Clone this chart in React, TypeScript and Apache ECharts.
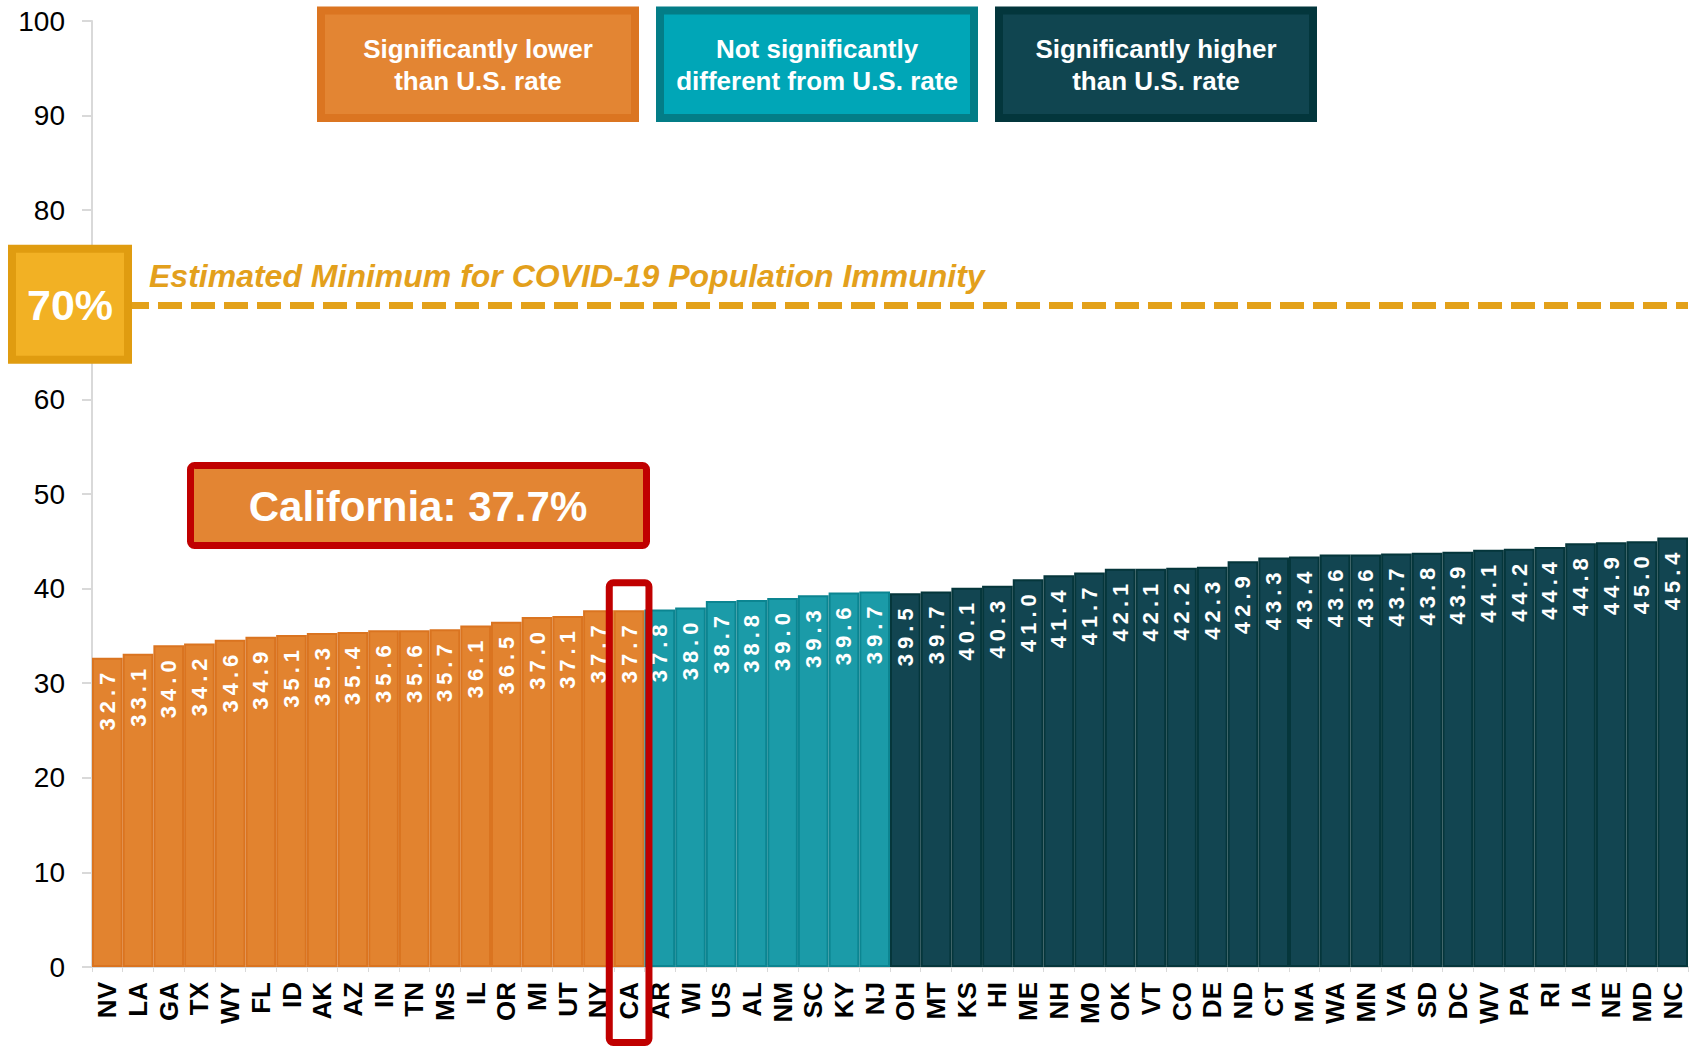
import React, { useEffect, useRef } from "react";
import * as echarts from "echarts";

const lowerStates = ["NV", "LA", "GA", "TX", "WY", "FL", "ID", "AK", "AZ", "IN", "TN", "MS", "IL", "OR", "MI", "UT", "NY", "CA"];
const lowerValues = [32.7, 33.1, 34.0, 34.2, 34.6, 34.9, 35.1, 35.3, 35.4, 35.6, 35.6, 35.7, 36.1, 36.5, 37.0, 37.1, 37.7, 37.7];
const similarStates = ["AR", "WI", "US", "AL", "NM", "SC", "KY", "NJ"];
const similarValues = [37.8, 38.0, 38.7, 38.8, 39.0, 39.3, 39.6, 39.7];
const higherStates = ["OH", "MT", "KS", "HI", "ME", "NH", "MO", "OK", "VT", "CO", "DE", "ND", "CT", "MA", "WA", "MN", "VA", "SD", "DC", "WV", "PA", "RI", "IA", "NE", "MD", "NC"];
const higherValues = [39.5, 39.7, 40.1, 40.3, 41.0, 41.4, 41.7, 42.1, 42.1, 42.2, 42.3, 42.9, 43.3, 43.4, 43.6, 43.6, 43.7, 43.8, 43.9, 44.1, 44.2, 44.4, 44.8, 44.9, 45.0, 45.4];

const yMin = 0;
const yMax = 100;
const yInterval = 10;
const threshold = 70;
const thresholdLabel = "70%";
const thresholdText = "Estimated Minimum for COVID-19 Population Immunity";
const highlightState = "CA";
const highlightText = "California: 37.7%";
const legendLabels = [
  "Significantly lower\nthan U.S. rate",
  "Not significantly\ndifferent from U.S. rate",
  "Significantly higher\nthan U.S. rate",
];

const FONT = '"Liberation Sans", Arial, Helvetica, sans-serif';

const groupStyles = [
  { fill: "#E2832F", border: "#DA7420", legendFill: "#E38533", legendBorder: "#DB7521" },
  { fill: "#1B9BA8", border: "#0C8591", legendFill: "#00A6B7", legendBorder: "#037D87" },
  { fill: "#124551", border: "#05363B", legendFill: "#104550", legendBorder: "#03363C" },
];

export default function App() {
  const ref = useRef<HTMLDivElement>(null);

  useEffect(() => {
    if (!ref.current) return;
    const chart = echarts.init(ref.current, null, { renderer: "svg" });

    const groups = [
      { states: lowerStates, values: lowerValues },
      { states: similarStates, values: similarValues },
      { states: higherStates, values: higherValues },
    ];
    const categories: string[] = [];
    const data: any[] = [];
    groups.forEach((g, gi) => {
      g.states.forEach((s, i) => {
        categories.push(s);
        data.push({
          value: g.values[i],
          itemStyle: { color: groupStyles[gi].fill, borderColor: groupStyles[gi].border, borderWidth: 2 },
        });
      });
    });

    chart.setOption({
      animation: false,
      grid: { left: 92, right: 10, top: 21, bottom: 80, containLabel: false },
      xAxis: {
        type: "category",
        data: categories,
        axisLine: { show: true, lineStyle: { color: "#D9D9D9", width: 2 } },
        axisTick: { show: true, length: 5, lineStyle: { color: "#D9D9D9" } },
        axisLabel: {
          interval: 0,
          rotate: 90,
          margin: 15,
          color: "#000",
          fontSize: 26,
          fontWeight: "bold",
          fontFamily: FONT,
        },
      },
      yAxis: {
        type: "value",
        min: yMin,
        max: yMax,
        interval: yInterval,
        splitLine: { show: false },
        axisLine: { show: true, lineStyle: { color: "#D9D9D9", width: 2 } },
        axisTick: { show: true, length: 10, lineStyle: { color: "#D9D9D9", width: 2 } },
        axisLabel: {
          margin: 27,
          color: "#000",
          fontSize: 28,
          fontFamily: FONT,
          formatter: (v: number) => (v === threshold ? "" : String(v)),
        },
      },
      series: [
        {
          type: "bar",
          data,
          barCategoryGap: "0%",
          label: {
            show: true,
            position: "insideTop",
            rotate: 90,
            align: "right",
            verticalAlign: "middle",
            distance: 10,
            color: "#fff",
            fontSize: 22,
            fontWeight: "bold",
            fontFamily: FONT,
            formatter: (p: any) => Number(p.value).toFixed(1),
          },
          markLine: {
            silent: true,
            symbol: "none",
            label: { show: false },
            lineStyle: { color: "#E3A11A", width: 7, type: [24, 9] },
            data: [{ yAxis: threshold }],
          },
        },
      ],
    });

    // Graphic overlays positioned from the chart's own scales
    const y70 = chart.convertToPixel({ yAxisIndex: 0 }, threshold) as number;
    const caIdx = categories.indexOf(highlightState);
    const caX = chart.convertToPixel({ xAxisIndex: 0 }, highlightState) as number;
    const nextX = chart.convertToPixel({ xAxisIndex: 0 }, categories[caIdx + 1]) as number;
    const bw = nextX - caX;
    const caTop = chart.convertToPixel({ yAxisIndex: 0 }, data[caIdx].value) as number;

    const legendX = [317, 656, 995];
    const legendGraphics: any[] = [];
    legendLabels.forEach((txt, i) => {
      legendGraphics.push({
        type: "rect",
        z: 100,
        shape: { x: legendX[i] + 4, y: 10.5, width: 314, height: 107.5 },
        style: { fill: groupStyles[i].legendFill, stroke: groupStyles[i].legendBorder, lineWidth: 8 },
      });
      legendGraphics.push({
        type: "text",
        z: 101,
        x: legendX[i] + 161,
        y: 65,
        style: {
          text: txt,
          fill: "#fff",
          font: `bold 26px ${FONT}`,
          align: "center",
          verticalAlign: "middle",
          lineHeight: 32,
        },
      });
    });

    chart.setOption({
      graphic: [
        ...legendGraphics,
        {
          type: "rect",
          z: 100,
          shape: { x: 12, y: y70 - 56, width: 116, height: 111 },
          style: { fill: "#F2B124", stroke: "#E09C10", lineWidth: 8 },
        },
        {
          type: "text",
          z: 101,
          x: 70,
          y: y70,
          style: {
            text: thresholdLabel,
            fill: "#fff",
            font: `bold 43px ${FONT}`,
            align: "center",
            verticalAlign: "middle",
          },
        },
        {
          type: "text",
          z: 101,
          x: 149,
          y: y70 - 29,
          style: {
            text: thresholdText,
            fill: "#E3A01C",
            font: `italic bold 32px ${FONT}`,
            align: "left",
            verticalAlign: "middle",
          },
        },
        {
          type: "rect",
          z: 100,
          shape: { x: 190.5, y: 465.5, width: 456, height: 80, r: 4 },
          style: { fill: "#E38533", stroke: "#C00000", lineWidth: 7 },
        },
        {
          type: "text",
          z: 101,
          x: 418,
          y: 506,
          style: {
            text: highlightText,
            fill: "#fff",
            font: `bold 42px ${FONT}`,
            align: "center",
            verticalAlign: "middle",
          },
        },
        {
          type: "rect",
          z: 100,
          shape: { x: caX - bw / 2 - 4.5, y: caTop - 27.5, width: bw + 9, height: 1042.5 - (caTop - 27.5), r: 4 },
          style: { fill: "none", stroke: "#C00000", lineWidth: 7 },
        },
      ],
    });

    const applySpacing = () => {
      if (!ref.current) return;
      ref.current.querySelectorAll("text").forEach((t) => {
        if (/^\d+\.\d$/.test(t.textContent || "")) {
          t.setAttribute("letter-spacing", "5");
        }
      });
    };
    applySpacing();
    chart.on("finished", applySpacing);
    const timer = setTimeout(applySpacing, 50);

    return () => {
      clearTimeout(timer);
      chart.dispose();
    };
  }, []);

  return (
    <div
      ref={ref}
      style={{ position: "fixed", left: 0, top: 0, width: 1698, height: 1047, background: "#fff" }}
    />
  );
}
